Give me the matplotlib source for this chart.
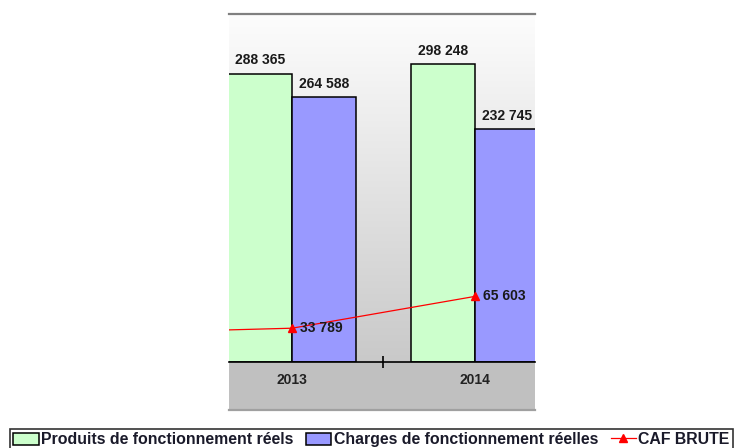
import matplotlib.pyplot as plt
import numpy as np
from matplotlib.colors import LinearSegmentedColormap

# donnees
years = [2013, 2014]
produits = [288365, 298248]
charges = [264588, 232745]
caf_years = [2012, 2013, 2014]
caf = [28900, 33789, 65603]

def fmt(v):
    return '{:,}'.format(v).replace(',', ' ')

plt.rcParams['font.family'] = ['Liberation Sans', 'DejaVu Sans']
plt.rcParams['font.weight'] = 'bold'

fig = plt.figure(figsize=(7.35, 4.48), dpi=100)
W, H = 735, 448
ax = fig.add_axes([229 / W, 1 - 362 / H, 306 / W, 348 / H], zorder=3)
band = fig.add_axes([229 / W, 1 - 410 / H, 306 / W, 48 / H], zorder=1)

x = np.array(years) - years[0]
w = 0.35
xmin, xmax = -0.344, 1.328
ymax = 348000

# fond degrade
cmap = LinearSegmentedColormap.from_list('bg', ['#fdfdfd', '#c9c9c9'])
ax.imshow(np.linspace(0, 1, 256).reshape(-1, 1), cmap=cmap, aspect='auto',
          extent=[xmin, xmax, 0, ymax], zorder=0, origin='upper')

b1 = ax.bar(x - w / 2, produits, w, color='#ccffcc', edgecolor='black', linewidth=1.1,
            label='Produits de fonctionnement réels', zorder=2)
b2 = ax.bar(x + w / 2, charges, w, color='#9999ff', edgecolor='black', linewidth=1.1,
            label='Charges de fonctionnement réelles', zorder=2)
for bars, vals in [(b1, produits), (b2, charges)]:
    for r, v in zip(bars, vals):
        ax.annotate(fmt(v), (r.get_x() + r.get_width() / 2, v), xytext=(0, 4.5),
                    textcoords='offset points', ha='center', va='bottom',
                    fontsize=10, fontweight='bold', color='#1a1a1a',
                    annotation_clip=False)

cx = np.array(caf_years) - years[0]
ln, = ax.plot(cx, caf, color='red', lw=0.9, marker='^', markersize=6,
              label='CAF BRUTE', zorder=4)
for xi, v in zip(cx, caf):
    if xmin <= xi <= xmax:
        ax.annotate(fmt(v), (xi, v), xytext=(5.5, 0), textcoords='offset points',
                    ha='left', va='center', fontsize=10, fontweight='bold',
                    color='#1a1a1a', zorder=5)

ax.set_xlim(xmin, xmax)
ax.set_ylim(0, ymax)
ax.set_yticks([])
ax.set_xticks([0.5])
ax.set_xticklabels([])
ax.tick_params(axis='x', direction='inout', length=9, width=1.2, color='black')
ax.spines['left'].set_visible(False)
ax.spines['right'].set_visible(False)
ax.spines['top'].set_color('#808080')
ax.spines['top'].set_linewidth(1.6)
ax.spines['bottom'].set_linewidth(1.2)

band.set_facecolor('#c0c0c0')
band.set_xlim(xmin, xmax)
band.set_ylim(0, 1)
band.set_xticks([])
band.set_yticks([])
for s in ['left', 'right', 'top']:
    band.spines[s].set_visible(False)
band.spines['bottom'].set_color('#a0a0a0')
band.spines['bottom'].set_linewidth(1.6)
for xi, yr in zip(x, years):
    band.text(xi, 0.62, str(yr), ha='center', va='center', fontsize=10,
              fontweight='bold', color='#222222')

leg = fig.legend(handles=[b1, b2, ln], loc='upper left',
                 bbox_to_anchor=(10 / W, 1 - 429 / H), ncol=3, fontsize=11.4,
                 frameon=True, fancybox=False, edgecolor='black', borderpad=0.2,
                 borderaxespad=0, handlelength=1.6, handleheight=0.8,
                 handletextpad=0.15, columnspacing=0.8)
leg.get_frame().set_linewidth(1.2)
for t in leg.get_texts():
    t.set_color('#1a1a2a')

fig.savefig('out.png', dpi=100)
